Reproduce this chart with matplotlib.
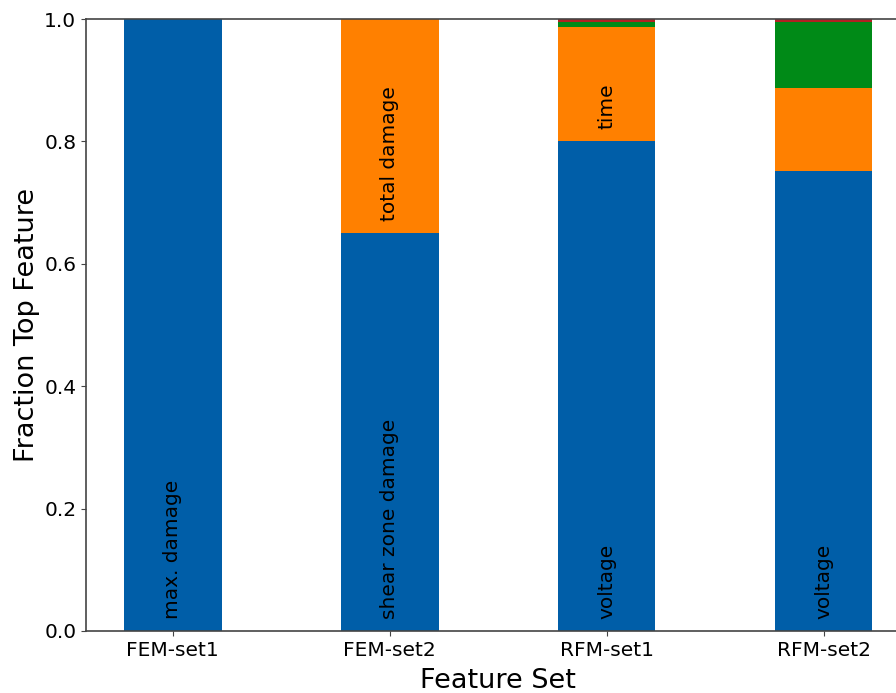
import matplotlib
matplotlib.use("Agg")
import matplotlib.pyplot as plt
import numpy as np

# Feature sets and the fraction of runs in which each feature ranked top
feature_sets = ["FEM-set1", "FEM-set2", "RFM-set1", "RFM-set2"]
first_feature = [1.0, 0.65, 0.80, 0.752]
second_feature = [0.0, 0.35, 0.187, 0.136]
third_feature = [0.0, 0.0, 0.008, 0.108]
fourth_feature = [0.0, 0.0, 0.005, 0.004]

first_names = ["max. damage", "shear zone damage", "voltage", "voltage"]
second_names = ["", "total damage", "time", ""]

colors = ["#005ea8", "#ff8000", "#008a17", "#b22222"]

fig = plt.figure(figsize=(8.96, 6.93), dpi=100)
ax = fig.add_axes([0.096, 0.0895, 0.920, 0.883])

x = np.arange(len(feature_sets))
width = 0.45
stacks = [first_feature, second_feature, third_feature, fourth_feature]
bottom = np.zeros(len(feature_sets))
for vals, c in zip(stacks, colors):
    ax.bar(x, vals, width, bottom=bottom, color=c)
    bottom += np.array(vals)

# Feature names written vertically inside their segments
for i in range(len(feature_sets)):
    if first_names[i]:
        ax.text(x[i], 0.02, first_names[i], rotation=90, ha="center",
                va="bottom", fontsize=14.5)
    if second_names[i]:
        ax.text(x[i], first_feature[i] + 0.02, second_names[i], rotation=90,
                ha="center", va="bottom", fontsize=14.5)

ax.set_xlim(-0.4, 3.4)
ax.set_ylim(0, 1.0)
ax.set_xticks(x)
ax.set_xticklabels(feature_sets, fontsize=14.5)
ax.set_yticks(np.arange(0, 1.01, 0.2))
ax.set_yticklabels([f"{v:.1f}" for v in np.arange(0, 1.01, 0.2)], fontsize=14.5)
ax.set_xlabel("Feature Set", fontsize=19.5, labelpad=6)
ax.set_ylabel("Fraction Top Feature", fontsize=19.5, labelpad=3)

for s in ax.spines.values():
    s.set_color("#444444")
    s.set_linewidth(1.2)
ax.tick_params(color="#444444")

fig.savefig("out.png", dpi=100)
